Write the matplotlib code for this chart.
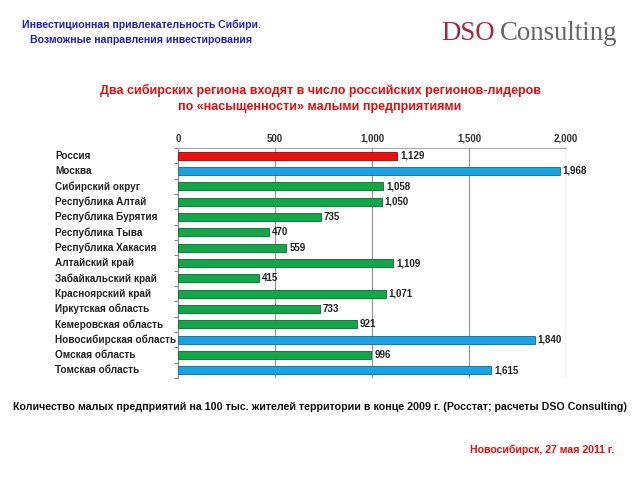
import matplotlib
matplotlib.use("Agg")
import matplotlib.pyplot as plt
import matplotlib.transforms as mtransforms
from matplotlib.ticker import FuncFormatter, FixedLocator

plt.rcParams['font.family'] = ['Liberation Sans', 'DejaVu Sans']

regions = ["Россия", "Москва", "Сибирский округ", "Республика Алтай",
           "Республика Бурятия", "Республика Тыва", "Республика Хакасия",
           "Алтайский край", "Забайкальский край", "Красноярский край",
           "Иркутская область", "Кемеровская область", "Новосибирская область",
           "Омская область", "Томская область"]
values = [1129, 1968, 1058, 1050, 735, 470, 559, 1109, 415, 1071, 733, 921, 1840, 996, 1615]
groups = ["russia", "leader", "sib", "sib", "sib", "sib", "sib", "sib", "sib", "sib",
          "sib", "sib", "leader", "sib", "leader"]
x_ticks = [0, 500, 1000, 1500, 2000]

color_map = {"russia": "#ee1010", "leader": "#1aa3e3", "sib": "#12a84a"}
edge_map = {"russia": "#a00000", "leader": "#0a6a9a", "sib": "#0a6a2a"}

fig = plt.figure(figsize=(6.4, 4.8), dpi=100)
ax = fig.add_axes([178/640, 1-378/480, (566-178)/640, (378-148)/480])

ypos = list(range(len(regions)))
ax.barh(ypos, values, height=0.52,
        color=[color_map[g] for g in groups],
        edgecolor=[edge_map[g] for g in groups], linewidth=0.6, zorder=3)

ax.set_ylim(len(regions)-0.5, -0.5)
ax.set_xlim(0, 2000)
ax.xaxis.set_major_locator(FixedLocator(x_ticks))
ax.xaxis.set_major_formatter(FuncFormatter(lambda v, p: f"{int(v):,}"))
ax.xaxis.tick_top()
ax.tick_params(axis='x', length=0, labelsize=7, labelcolor='#333333', pad=3)
for t in ax.get_xticklabels():
    t.set_fontweight('bold')
ax.grid(axis='x', color='#999999', linewidth=0.9, zorder=0)

ax.set_yticks([])
ax.set_yticks([y + 0.5 for y in ypos[:-1]] + [-0.5, len(regions)-0.5], minor=True)
ax.tick_params(axis='y', which='minor', length=3, color='#888888', width=0.8)
for s in ['right', 'bottom']:
    ax.spines[s].set_visible(False)
ax.spines['top'].set_color('#aaaaaa')
ax.spines['left'].set_color('#888888')

label_tr = mtransforms.blended_transform_factory(fig.transFigure, ax.transData)
for y, (name, v) in enumerate(zip(regions, values)):
    ax.text(55/640, y, name, ha='left', va='center', fontsize=7.2,
            color='#222222', fontweight='bold', transform=label_tr)
    ax.text(v + 15, y, f"{v:,}", ha='left', va='center', fontsize=7,
            color='#222222', fontweight='bold')

# headers
fig.text(141/640, 1-25/480, "Инвестиционная привлекательность Сибири.", ha='center',
         va='center', fontsize=7.6, color='#2020c0', fontweight='bold')
fig.text(141/640, 1-40/480, "Возможные направления инвестирования", ha='center',
         va='center', fontsize=7.6, color='#2020c0', fontweight='bold')

t1 = fig.text(441/640, 1-34/480, "DSO", ha='left', va='center', fontsize=19.3,
              color='#a32840', family='Liberation Serif')
fig.canvas.draw()
bb = t1.get_window_extent()
fig.text((bb.x1 + 5)/640, 1-34/480, "Consulting", ha='left', va='center', fontsize=19.3,
         color='#666666', family='Liberation Serif')

fig.text(320/640, 1-90/480, "Два сибирских региона входят в число российских регионов-лидеров",
         ha='center', va='center', fontsize=9, color='#e01010', fontweight='bold')
fig.text(320/640, 1-107/480, "по «насыщенности» малыми предприятиями",
         ha='center', va='center', fontsize=9, color='#e01010', fontweight='bold')

fig.text(320/640, 1-407/480,
         "Количество малых предприятий на 100 тыс. жителей территории в конце 2009 г. (Росстат; расчеты DSO Consulting)",
         ha='center', va='center', fontsize=7.7, color='#111111', fontweight='bold')
fig.text(614/640, 1-450/480, "Новосибирск, 27 мая 2011 г.", ha='right', va='center',
         fontsize=7.6, color='#e01010', fontweight='bold')

fig.savefig("out.png", dpi=100, facecolor='white')
